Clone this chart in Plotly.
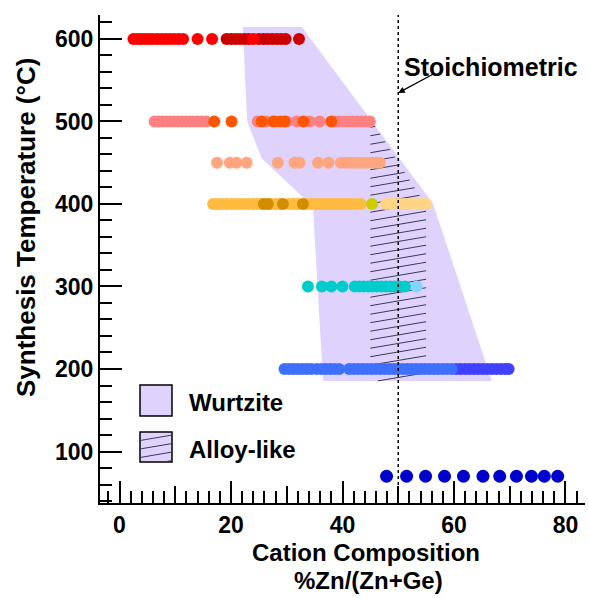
import numpy as np
import plotly.graph_objects as go

# ---------------- data ----------------
# 600 C
red600_bright = [2.5, 3.2, 3.9, 4.6, 5.3, 6.0, 6.8, 7.5, 8.3, 9.0, 9.8, 10.6, 11.4, 14.0, 16.6, 24.0]
red600_dark = [19.2, 20.0, 20.8, 21.6, 22.4, 23.2, 25.0, 25.8, 26.6, 27.4, 28.2, 29.0, 29.8, 32.2]
# 500 C
salmon500 = [6.3, 7.0, 7.7, 8.4, 9.1, 9.8, 10.5, 11.2, 11.9, 12.6, 13.3, 14.0, 14.8, 15.6,
             24.8, 26.3, 28.0, 30.0, 31.8, 34.1, 35.9, 38.6, 39.4, 40.2, 41.0, 41.8, 42.6,
             43.4, 44.2, 44.9]
orange500 = [17.0, 20.1, 25.5, 27.6, 28.8, 29.6, 33.0, 38.0]
# 450 C
peach450 = [17.5, 19.8, 21.0, 22.8, 28.4, 31.4, 32.3, 35.6, 37.5, 39.7, 40.5, 41.3, 42.1,
            42.9, 43.7, 44.5, 45.3, 46.1, 46.7]
# 400 C
gold400 = [16.8, 17.6, 18.4, 19.2, 20.0, 20.8, 21.6, 22.4, 23.2, 24.0, 24.8, 25.6, 27.2,
           28.0, 28.8, 30.4, 31.2, 32.0, 33.6, 34.4, 35.2, 36.0, 36.8, 37.6, 38.4, 39.2,
           40.0, 40.8, 41.6, 42.4, 43.3]
darkgold400 = [25.9, 26.6, 29.3, 32.9]
olive400 = [45.3]
lightorange400 = [47.8, 48.6, 49.4, 50.2, 51.0, 51.8, 52.6, 53.4, 54.2, 55.0]
# 300 C
cyan300 = [33.8, 36.3, 38.0, 40.0, 42.2, 43.0, 43.8, 44.6, 45.4, 46.2, 47.0, 47.8, 48.6,
           49.4, 50.2, 51.2]
lightblue300 = [53.3]
# 200 C
blue200 = [29.6, 30.4, 31.2, 32.0, 32.8, 33.6, 34.4, 35.4, 36.2, 37.0, 37.8, 38.6, 39.4,
           41.2, 42.0, 42.8, 43.6, 44.4, 45.2, 46.0, 46.8, 47.6, 48.4, 49.2, 50.0, 50.8,
           51.6, 52.4, 53.2, 54.0, 54.8, 55.6, 56.4, 57.2, 58.0, 58.8, 59.6]
violet200 = [60.4, 61.2, 62.0, 62.8, 63.6, 64.4, 65.2, 66.0, 66.8, 67.6, 68.4, 69.2, 69.8]
# 70 C
navy70 = [47.9, 51.5, 54.9, 58.3, 61.7, 65.2, 68.2, 71.2, 73.9, 76.2, 78.6]

# phase regions (composition %, temperature C)
wurtzite_x = [22.1, 32.7, 56.2, 66.8, 36.5, 34.7, 25.5, 22.9]
wurtzite_T = [614.5, 614.5, 401, 185.5, 185.5, 397, 455, 500]
alloy_x = [45.0, 55.0, 55.0, 45.3, 45.0]
alloy_T = [185.5, 185.5, 398, 500, 500]

stoich_x = 50
x_ticks = [0, 20, 40, 60, 80]
y_ticks = [100, 200, 300, 400, 500, 600]

# ---------------- layout constants ----------------
W, H = 589, 598
ML, MR, MT, MB = 100, 4, 15, 95
XR = [-3.5, 83.5]
YR = [37.6, 629]
FONT = "Liberation Sans, Arial, Helvetica, sans-serif"
PW, PH = W - ML - MR, H - MT - MB


def pxp(px, py):
    return (px - ML) / PW, (H - MB - py) / PH


def clip_convex(poly, p0, d):
    n = len(poly)
    area = 0.0
    for i in range(n):
        a, b = poly[i], poly[(i + 1) % n]
        area += a[0] * b[1] - b[0] * a[1]
    s = 1.0 if area > 0 else -1.0
    tmin, tmax = -1e9, 1e9
    for i in range(n):
        a, b = poly[i], poly[(i + 1) % n]
        ex, ey = b[0] - a[0], b[1] - a[1]
        nx, ny = -ey * s, ex * s
        num = nx * (p0[0] - a[0]) + ny * (p0[1] - a[1])
        den = nx * d[0] + ny * d[1]
        if abs(den) < 1e-12:
            if num < 0:
                return None
        else:
            t = -num / den
            if den > 0:
                tmin = max(tmin, t)
            else:
                tmax = min(tmax, t)
    if tmin < tmax:
        return (p0[0] + tmin * d[0], p0[1] + tmin * d[1],
                p0[0] + tmax * d[0], p0[1] + tmax * d[1])
    return None


fig = go.Figure()

# Wurtzite region
fig.add_trace(go.Scatter(x=wurtzite_x, y=wurtzite_T, mode="lines", fill="toself",
                         fillcolor="#DFD3FE", line=dict(color="rgba(0,0,0,0)", width=0),
                         hoverinfo="skip", showlegend=False))

# Alloy-like hatching (lines clipped to region)
poly = list(zip(alloy_x, alloy_T))
slope = 1.15  # T per % composition
hx, hy = [], []
for c in np.arange(493, 120, -10.3):
    seg = clip_convex(poly, (45.0, c), (1.0, slope))
    if seg:
        hx += [seg[0], seg[2], None]
        hy += [seg[1], seg[3], None]
fig.add_trace(go.Scatter(x=hx, y=hy, mode="lines", line=dict(color="#3A3A58", width=1),
                         hoverinfo="skip", showlegend=False))

MS = 12
series = [
    (red600_dark, 600, "#CC0000", MS),
    (red600_bright, 600, "#FF0000", MS),
    (salmon500, 500, "#FF8080", MS),
    (orange500, 500, "#FF5500", MS),
    (peach450, 450, "#FFA680", MS),
    (gold400, 400, "#FFBB40", MS),
    (darkgold400, 400, "#D48C00", MS),
    (olive400, 400, "#CCCC00", MS),
    (lightorange400, 400, "#FFD584", MS),
    (lightblue300, 300, "#80D4FF", MS),
    (cyan300, 300, "#00CCCC", MS),
    (violet200, 200, "#4040FF", MS),
    (blue200, 200, "#3F6FFF", MS),
    (navy70, 70, "#0000CC", 13),
]
for xs, T, col, ms in series:
    fig.add_trace(go.Scatter(x=xs, y=[T] * len(xs), mode="markers",
                             marker=dict(color=col, size=ms, line=dict(width=0)),
                             showlegend=False))

# dummy trace for overlay axis of 10-unit ticks
fig.add_trace(go.Scatter(x=[0], y=[None], xaxis="x2", mode="markers", showlegend=False,
                         hoverinfo="skip"))

shapes = []
# stoichiometric dotted line
shapes.append(dict(type="line", xref="x", yref="paper", x0=stoich_x, x1=stoich_x, y0=0, y1=1,
                   line=dict(color="black", width=1.5, dash="dot"), layer="above"))

# legend boxes
for (x0, y0, x1, y1) in [(140, 385, 172, 416), (140, 432, 172, 462)]:
    a = pxp(x0, y1)
    b = pxp(x1, y0)
    shapes.append(dict(type="rect", xref="paper", yref="paper", x0=a[0], y0=a[1],
                       x1=b[0], y1=b[1], fillcolor="#DFD3FE",
                       line=dict(color="black", width=1.5), layer="above"))
# legend hatching (in pixels)
box = [(140, 462), (172, 462), (172, 432), (140, 432)]
for c in [466, 457.5, 449, 440.5, 432]:
    seg = clip_convex(box, (140, c), (1.0, -0.17))
    if seg:
        a = pxp(seg[0], seg[1])
        b = pxp(seg[2], seg[3])
        shapes.append(dict(type="line", xref="paper", yref="paper", x0=a[0], y0=a[1],
                           x1=b[0], y1=b[1], line=dict(color="#3A3A58", width=1),
                           layer="above"))

annotations = []
# Stoichiometric label + arrow
annotations.append(dict(x=50.6, y=566, xref="x", yref="y", text="Stoichiometric",
                        showarrow=False, xanchor="left", yanchor="middle",
                        font=dict(family=FONT, size=25, color="black", weight="bold")))
annotations.append(dict(x=stoich_x, y=534.5, xref="x", yref="y", text="", showarrow=True,
                        ax=37, ay=-20, arrowhead=2, arrowsize=1, arrowwidth=1.3,
                        arrowcolor="black"))

# legend labels
for txt, py in [("Wurtzite", 402), ("Alloy-like", 449)]:
    p = pxp(187, py)
    annotations.append(dict(x=p[0], y=p[1], xref="paper", yref="paper", text=txt,
                            showarrow=False, xanchor="left", yanchor="middle",
                            font=dict(family=FONT, size=24, color="black", weight="bold")))

# axis titles
for txt, px, py in [("Cation Composition", 365.5, 552), ("%Zn/(Zn+Ge)", 368, 580)]:
    p = pxp(px, py)
    annotations.append(dict(x=p[0], y=p[1], xref="paper", yref="paper", text=txt,
                            showarrow=False, xanchor="center", yanchor="middle",
                            font=dict(family=FONT, size=24, color="black", weight="bold")))
p = pxp(26, 228)
annotations.append(dict(x=p[0], y=p[1], xref="paper", yref="paper",
                        text="Synthesis Temperature (°C)", textangle=-90,
                        showarrow=False, xanchor="center", yanchor="middle",
                        font=dict(family=FONT, size=26, color="black", weight="bold")))

tickfont = dict(family=FONT, size=23, color="black", weight="bold")
fig.update_layout(
    width=W, height=H, margin=dict(l=ML, r=MR, t=MT, b=MB),
    paper_bgcolor="white", plot_bgcolor="white", showlegend=False,
    shapes=shapes, annotations=annotations,
    xaxis=dict(range=XR, showgrid=False, zeroline=False, showline=True, linecolor="black",
               linewidth=2, ticks="inside", ticklen=22, tickwidth=2, tickcolor="black",
               tickmode="array", tickvals=x_ticks, ticktext=[str(v) for v in x_ticks],
               tickfont=tickfont,
               minor=dict(dtick=2, tick0=0, ticks="inside", ticklen=12, tickwidth=2,
                          tickcolor="black", showgrid=False)),
    xaxis2=dict(range=XR, overlaying="x", anchor="y", side="bottom", showgrid=False,
                zeroline=False, showline=False, ticks="inside", ticklen=17, tickwidth=2,
                tickcolor="black", tick0=0, dtick=10, showticklabels=False),
    yaxis=dict(range=YR, showgrid=False, zeroline=False, showline=True, linecolor="black",
               linewidth=2, ticks="inside", ticklen=22, tickwidth=2, tickcolor="black",
               tickmode="array", tickvals=y_ticks, ticktext=[str(v) for v in y_ticks],
               tickfont=tickfont,
               minor=dict(dtick=20, tick0=0, ticks="inside", ticklen=12, tickwidth=2,
                          tickcolor="black", showgrid=False)),
)

fig.write_html("out.html")
